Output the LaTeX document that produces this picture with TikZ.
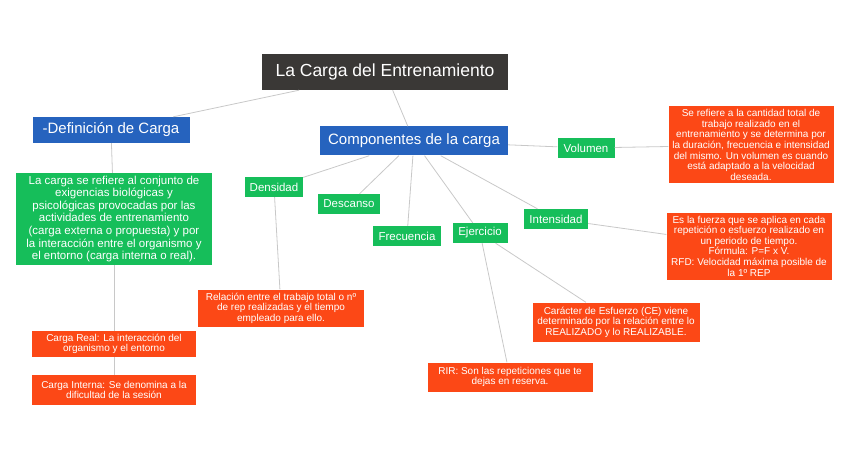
\documentclass[tikz,border=0pt]{standalone}
\usepackage{fontspec}
\setmainfont{Liberation Sans}
\begin{document}
\begin{tikzpicture}[x=1pt,y=-1pt,
 base/.style={text=white,inner sep=1pt,align=center,font=\fontsize{10}{10.6}\selectfont},
 dark/.style={base,fill={rgb,255:red,58;green,56;blue,54},minimum width=246pt,minimum height=36pt,font=\fontsize{17.5}{19}\selectfont},
 blue/.style={base,fill={rgb,255:red,38;green,99;blue,190},minimum height=26pt,font=\fontsize{15}{17}\selectfont},
 green/.style={base,fill={rgb,255:red,22;green,190;blue,90},minimum height=20pt,font=\fontsize{11.5}{12}\selectfont},
 red/.style={base,fill={rgb,255:red,252;green,72;blue,22}},
 ln/.style={draw={rgb,255:red,200;green,200;blue,200},line width=0.8pt}]
\useasboundingbox (0,0) rectangle (848,449);
\node[dark] (t) at (385,72) {La Carga del Entrenamiento};
\node[blue,minimum width=157pt] (d) at (111,130) {-Definición de Carga};
\node[blue,minimum width=188pt,minimum height=29pt] (c) at (414,141) {Componentes de la carga};
\node[green,minimum width=196pt,minimum height=92pt,font=\fontsize{11.5}{12.6}\selectfont] (dt) at (114,219) {La carga se refiere al conjunto de\\exigencias biológicas y\\psicológicas provocadas por las\\actividades de entrenamiento\\(carga externa o propuesta) y por\\la interacción entre el organismo y\\el entorno (carga interna o real).};
\node[red,minimum width=164pt,minimum height=26pt] (cr) at (114,344) {Carga Real: La interacción del\\organismo y el entorno};
\node[red,minimum width=164pt,minimum height=30pt] (ci) at (114,390) {Carga Interna: Se denomina a la\\dificultad de la sesión};
\node[green,minimum width=58pt] (de) at (274,187) {Densidad};
\node[green,minimum width=62pt] (ds) at (349,204) {Descanso};
\node[green,minimum width=68pt] (fr) at (407,236) {Frecuencia};
\node[green,minimum width=55pt] (ej) at (480,233) {Ejercicio};
\node[green,minimum width=64pt] (in) at (556,219) {Intensidad};
\node[green,minimum width=57pt] (vo) at (586,148) {Volumen};
\node[red,minimum width=165pt,minimum height=77pt] (vt) at (751,145) {Se refiere a la cantidad total de\\trabajo realizado en el\\entrenamiento y se determina por\\la duración, frecuencia e intensidad\\del mismo. Un volumen es cuando\\está adaptado a la velocidad\\deseada.};
\node[red,minimum width=165pt,minimum height=67pt] (it) at (749,246) {Es la fuerza que se aplica en cada\\repetición o esfuerzo realizado en\\un periodo de tiempo.\\Fórmula: P=F x V.\\RFD: Velocidad máxima posible de\\la 1º REP};
\node[red,minimum width=166pt,minimum height=37pt] (dx) at (281,308) {Relación entre el trabajo total o nº\\de rep realizadas y el tiempo\\empleado para ello.};
\node[red,minimum width=167pt,minimum height=39pt] (ce) at (616,322) {Carácter de Esfuerzo (CE) viene\\determinado por la relación entre lo\\REALIZADO y lo REALIZABLE.};
\node[red,minimum width=165pt,minimum height=29pt] (rir) at (510,377) {RIR: Son las repeticiones que te\\dejas en reserva.};
\draw[ln] (t) -- (d); \draw[ln] (t) -- (c);
\draw[ln] (d) -- (dt); \draw[ln] (dt) -- (cr); \draw[ln] (cr) -- (ci);
\foreach \n in {de,ds,fr,ej,in,vo} \draw[ln] (c) -- (\n);
\draw[ln] (vo) -- (vt); \draw[ln] (in) -- (it); \draw[ln] (de) -- (dx);
\draw[ln] (ej) -- (ce); \draw[ln] (ej) -- (rir);
\end{tikzpicture}
\end{document}
